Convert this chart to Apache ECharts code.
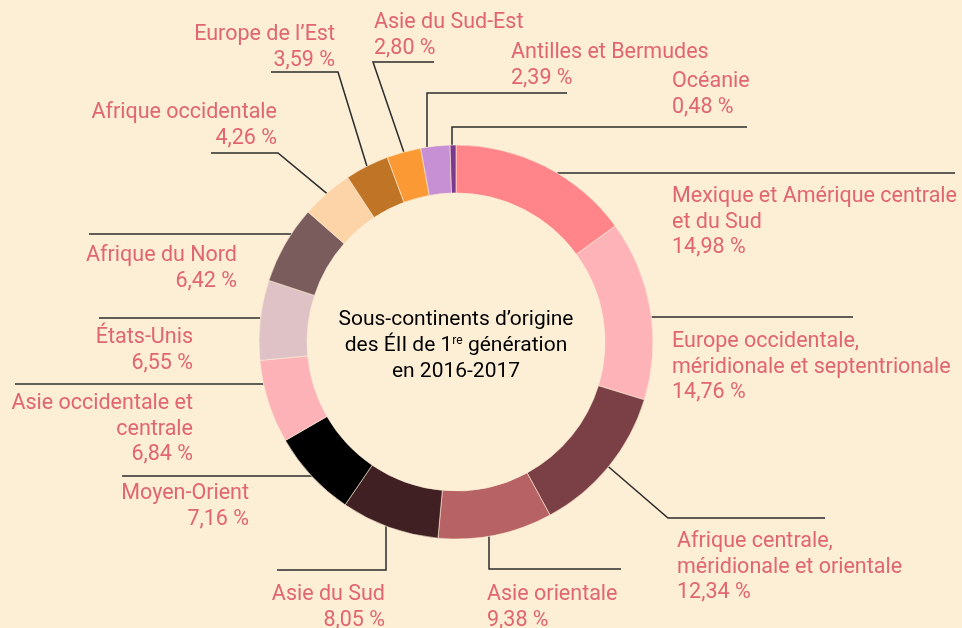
<!DOCTYPE html>
<html>
<head>
<meta charset="utf-8">
<script src="https://cdn.jsdelivr.net/npm/echarts@6/dist/echarts.min.js"></script>
<style>
html, body { margin: 0; padding: 0; background: #fdeed6; }
#main { width: 962px; height: 628px; }
</style>
</head>
<body>
<div id="main"></div>
<script>
// sous-continents, dans le sens horaire à partir de midi
var categories = [
  'Mexique et Amérique centrale\net du Sud',
  'Europe occidentale,\nméridionale et septentrionale',
  'Afrique centrale,\nméridionale et orientale',
  'Asie orientale',
  'Asie du Sud',
  'Moyen-Orient',
  'Asie occidentale et\ncentrale',
  'États-Unis',
  'Afrique du Nord',
  'Afrique occidentale',
  'Europe de l’Est',
  'Asie du Sud-Est',
  'Antilles et Bermudes',
  'Océanie'
]
var values = [14.98, 14.76, 12.34, 9.38, 8.05, 7.16, 6.84, 6.55, 6.42, 4.26, 3.59, 2.80, 2.39, 0.48]

var colors = ['#ff858a', '#fdb3b8', '#7b4045', '#b76265', '#402022', '#000000', '#fcb2b7',
              '#dfc2c5', '#7a5c5c', '#fdd4a8', '#c07426', '#fb9a35', '#c890d4', '#7a3a8e']

// position du donut
var CX = 456, CY = 342, R0 = 149, R = 197

// étiquettes : texte (tx, ty), départ du trait (h = horizontal à y, v = vertical à x, m = milieu de la part)
var labelPos = [
  { tx: 672, ty: 184, align: 'left',  kind: 'h', at: 173, side: 1,  pts: [[955, 173]] },
  { tx: 672, ty: 329, align: 'left',  kind: 'h', at: 317, side: 1,  pts: [[853, 317]] },
  { tx: 677, ty: 529, align: 'left',  kind: 'm', pts: [[668, 518], [825, 518]] },
  { tx: 487, ty: 582, align: 'left',  kind: 'v', at: 489, side: 1,  pts: [[489, 569], [621, 569]] },
  { tx: 385, ty: 582, align: 'right', kind: 'v', at: 386, side: 1,  pts: [[386, 570], [277, 570]] },
  { tx: 249, ty: 481, align: 'right', kind: 'h', at: 476, side: -1, pts: [[122, 476]] },
  { tx: 193, ty: 391, align: 'right', kind: 'h', at: 384, side: -1, pts: [[15, 384]] },
  { tx: 193, ty: 325, align: 'right', kind: 'h', at: 318, side: -1, pts: [[99, 318]] },
  { tx: 237, ty: 243, align: 'right', kind: 'h', at: 234, side: -1, pts: [[89, 234]] },
  { tx: 277, ty: 100, align: 'right', kind: 'm', pts: [[278, 153], [211, 153]] },
  { tx: 335, ty: 22,  align: 'right', kind: 'm', pts: [[338, 72], [271, 72]] },
  { tx: 374, ty: 10,  align: 'left',  kind: 'm', pts: [[373, 62], [434, 62]] },
  { tx: 511, ty: 40,  align: 'left',  kind: 'v', at: 427, side: -1, pts: [[427, 93], [567, 93]] },
  { tx: 672, ty: 69,  align: 'left',  kind: 'v', at: 452, side: -1, pts: [[452, 127], [747, 127]] }
]

var total = values.reduce(function (a, b) { return a + b }, 0)

function fmt(v) {
  return v.toFixed(2).replace('.', ',') + ' %'
}

// point de départ du trait sur le bord extérieur de la part
function startPoint(i) {
  var L = labelPos[i]
  if (L.kind === 'h') {
    var dy = L.at - CY
    var dx = Math.sqrt(R * R - dy * dy)
    return [CX + L.side * dx, L.at]
  }
  if (L.kind === 'v') {
    var ddx = L.at - CX
    var ddy = Math.sqrt(R * R - ddx * ddx)
    return [L.at, CY + L.side * ddy]
  }
  var before = 0
  for (var k = 0; k < i; k++) before += values[k]
  var a = (before + values[i] / 2) / total * 2 * Math.PI
  return [CX + R * Math.sin(a), CY - R * Math.cos(a)]
}

var pieData = categories.map(function (name, i) {
  return { name: name, value: values[i], itemStyle: { color: colors[i] } }
})

var chart = echarts.init(document.getElementById('main'))

chart.setOption({
  backgroundColor: '#fdeed6',
  animation: false,
  graphic: [{
    type: 'text',
    x: CX,
    y: 346,
    style: {
      text: '{a|Sous-continents d’origine}\n{a|des ÉII de 1}{s|re}{a| génération}\n{a|en 2016-2017}',
      align: 'center',
      verticalAlign: 'middle',
      rich: {
        a: { fontFamily: 'Roboto', fontSize: 21, lineHeight: 26, color: '#2d2a28' },
        s: { fontFamily: 'Roboto', fontSize: 12, lineHeight: 26, color: '#2d2a28', padding: [0, 0, 11, 0] }
      }
    }
  }],
  series: [{
    type: 'pie',
    center: [CX, CY],
    radius: [R0, R],
    startAngle: 90,
    clockwise: true,
    avoidLabelOverlap: false,
    itemStyle: { borderColor: '#fdeed6', borderWidth: 0.6 },
    emphasis: { disabled: true },
    label: {
      show: true,
      position: 'outside',
      color: '#e0666f',
      fontFamily: 'Roboto',
      fontSize: 21.5,
      lineHeight: 25.5,
      formatter: function (p) { return p.name + '\n' + fmt(p.value) }
    },
    labelLine: {
      show: true,
      smooth: false,
      lineStyle: { color: '#2b2b2b', width: 1.5 }
    },
    labelLayout: function (params) {
      var L = labelPos[params.dataIndex]
      var pts = [startPoint(params.dataIndex)].concat(L.pts)
      return {
        x: L.tx,
        y: L.ty,
        align: L.align,
        verticalAlign: 'top',
        labelLinePoints: pts
      }
    },
    data: pieData
  }]
})
</script>
</body>
</html>
